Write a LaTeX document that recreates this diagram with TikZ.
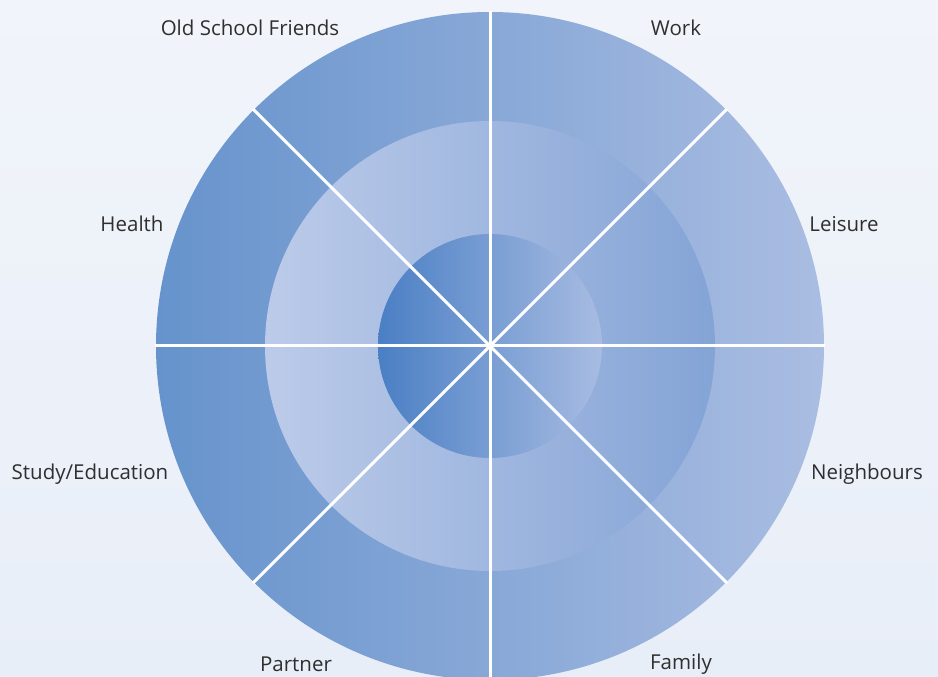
\documentclass[tikz,border=0pt]{standalone}
\usepackage{fontspec}
\setmainfont{Open Sans}
\usepackage{xcolor}
\usetikzlibrary{positioning}

\definecolor{bgtop}{HTML}{F1F4FA}
\definecolor{bgblue}{HTML}{E8EEF8}
\definecolor{outerleft}{HTML}{6693CC}
\definecolor{outerright}{HTML}{AABDE2}
\definecolor{midleft}{HTML}{BCCBE9}
\definecolor{midright}{HTML}{84A4D6}
\definecolor{innerleft}{HTML}{4A7FC4}
\definecolor{innerright}{HTML}{A8BCE2}
\definecolor{labelgray}{HTML}{2F2F2F}

\begin{document}
\begin{tikzpicture}[x=1pt, y=1pt, spoke/.style={draw=white, line width=3pt}, lifearea/.style={font=\fontsize{20.5}{24}\selectfont, text=labelgray, inner sep=0pt}]
% Define styles for the rings
\tikzstyle{ring} = [draw=none]

% Background and frame
\useasboundingbox (0,0) rectangle (938,677);
\shade[top color=bgtop, bottom color=bgblue] (0,0) rectangle (938,677);
\clip (0,0) rectangle (938,677);

% Rings, outer to inner
\coordinate (hub) at (490,331);
\shade[ring, left color=outerleft, right color=outerright] (hub) circle (334);
\shade[ring, left color=midleft, right color=midright] (hub) circle (225);
\shade[ring, left color=innerleft, right color=innerright] (hub) circle (112);

% Spokes
\foreach \a in {0,45,...,315}
  \draw[spoke] (hub) -- ++(\a:335);

% Labels
\node[lifearea] (friends) at (250,649) {Old School Friends};
\node[lifearea] (work) at (676,649) {Work};
\node[lifearea] (health) at (132,453) {Health};
\node[lifearea] (leisure) at (844,453) {Leisure};
\node[lifearea] (study) at (90,203) {Study/Education};
\node[lifearea] (neighbours) at (867,203) {Neighbours};
\node[lifearea] (partner) at (296,13) {Partner};
\node[lifearea] (family) at (681,13) {Family};
\end{tikzpicture}
\end{document}
